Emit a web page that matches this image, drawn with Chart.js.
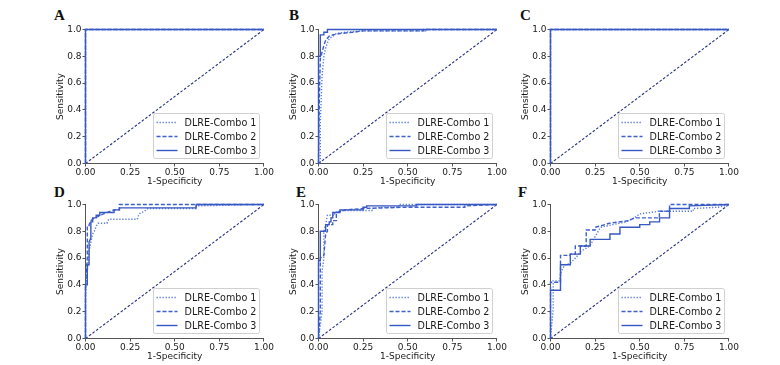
<!DOCTYPE html>
<html>
<head>
<meta charset="utf-8">
<script src="https://cdn.jsdelivr.net/npm/chart.js@4/dist/chart.umd.min.js"></script>
<style>
  body { margin: 0; background: #fff; width: 780px; height: 365px; position: relative; overflow: hidden; }
  canvas { position: absolute; }
  .tag { position: absolute; font: bold 15px "Liberation Serif", "Times New Roman", serif; color: #111; line-height: 1; }
</style>
</head>
<body>
<div class="tag" style="left:54px;top:8px">A</div>
<div class="tag" style="left:289px;top:8px">B</div>
<div class="tag" style="left:520px;top:8px">C</div>
<div class="tag" style="left:54px;top:185px">D</div>
<div class="tag" style="left:296px;top:185px">E</div>
<div class="tag" style="left:518px;top:185px">F</div>

<canvas id="rocA" width="220" height="168" style="left:55px;top:19px"></canvas>
<canvas id="rocB" width="220" height="168" style="left:288px;top:19px"></canvas>
<canvas id="rocC" width="220" height="168" style="left:520px;top:19px"></canvas>
<canvas id="rocD" width="220" height="168" style="left:55px;top:194px"></canvas>
<canvas id="rocE" width="220" height="168" style="left:288px;top:194px"></canvas>
<canvas id="rocF" width="220" height="168" style="left:520px;top:194px"></canvas>

<script>
// series labels and axis ticks
const seriesNames = ['DLRE-Combo 1', 'DLRE-Combo 2', 'DLRE-Combo 3'];
const xTicks = [0, 0.25, 0.5, 0.75, 1];
const yTicks = [0, 0.2, 0.4, 0.6, 0.8, 1];
const chanceFpr = [0, 1];
const chanceTpr = [0, 1];

// A - perfect curves
const A1_fpr = [0, 0, 1], A1_tpr = [0, 1, 1];
const A2_fpr = [0, 0, 1], A2_tpr = [0, 1, 1];
const A3_fpr = [0, 0, 1], A3_tpr = [0, 1, 1];

// B
const B1_fpr = [0, 0.01, 0.01, 0.02, 0.03, 0.04, 0.05, 0.06, 0.08, 0.1, 0.15, 0.25, 0.6, 0.6, 1];
const B1_tpr = [0, 0, 0.3, 0.65, 0.8, 0.86, 0.9, 0.93, 0.95, 0.97, 0.98, 0.99, 0.99, 1, 1];
const B2_fpr = [0, 0.005, 0.01, 0.02, 0.03, 0.04, 0.06, 0.08, 0.12, 0.2, 0.25, 0.59, 0.59, 1];
const B2_tpr = [0, 0.5, 0.78, 0.83, 0.88, 0.92, 0.95, 0.96, 0.97, 0.98, 0.99, 0.99, 1, 1];
const B3_fpr = [0, 0, 0.01, 0.01, 0.03, 0.03, 0.05, 0.05, 1];
const B3_tpr = [0, 0.8, 0.8, 0.96, 0.96, 0.98, 0.98, 1, 1];

// C - perfect curves
const C1_fpr = [0, 0, 1], C1_tpr = [0, 1, 1];
const C2_fpr = [0, 0, 1], C2_tpr = [0, 1, 1];
const C3_fpr = [0, 0, 1], C3_tpr = [0, 1, 1];

// D
const D1_fpr = [0, 0, 0.01, 0.02, 0.03, 0.04, 0.05, 0.06, 0.07, 0.12, 0.13, 0.29, 0.3, 0.33, 0.35, 0.62, 0.62, 1];
const D1_tpr = [0, 0.32, 0.5, 0.65, 0.72, 0.78, 0.8, 0.84, 0.86, 0.86, 0.89, 0.89, 0.93, 0.95, 0.97, 0.97, 0.99, 1];
const D2_fpr = [0, 0, 0.01, 0.01, 0.02, 0.02, 0.03, 0.05, 0.07, 0.1, 0.16, 0.19, 0.19, 1];
const D2_tpr = [0, 0.4, 0.6, 0.83, 0.83, 0.85, 0.88, 0.9, 0.91, 0.93, 0.96, 0.96, 1, 1];
const D3_fpr = [0, 0, 0.01, 0.01, 0.02, 0.02, 0.03, 0.03, 0.04, 0.04, 0.06, 0.06, 0.08, 0.08, 0.16, 0.16, 0.19, 0.19, 0.62, 0.62, 1];
const D3_tpr = [0, 0.4, 0.4, 0.55, 0.55, 0.72, 0.75, 0.87, 0.87, 0.9, 0.9, 0.92, 0.92, 0.94, 0.94, 0.96, 0.96, 0.975, 0.975, 1, 1];

// E
const E1_fpr = [0, 0.02, 0.02, 0.03, 0.03, 0.04, 0.05, 0.09, 0.09, 0.13, 0.3, 0.3, 0.35, 0.45, 0.45, 1];
const E1_tpr = [0, 0.2, 0.5, 0.6, 0.8, 0.85, 0.92, 0.92, 0.94, 0.955, 0.955, 0.97, 0.98, 0.98, 1, 1];
const E2_fpr = [0, 0.01, 0.01, 0.03, 0.04, 0.05, 0.05, 0.08, 0.08, 0.1, 0.1, 0.13, 0.15, 0.25, 0.5, 0.82, 0.82, 1];
const E2_tpr = [0, 0.2, 0.6, 0.62, 0.78, 0.8, 0.85, 0.85, 0.88, 0.88, 0.94, 0.95, 0.96, 0.97, 0.98, 0.98, 0.99, 1];
const E3_fpr = [0, 0, 0.01, 0.01, 0.04, 0.04, 0.06, 0.06, 0.07, 0.07, 0.08, 0.08, 0.12, 0.12, 0.25, 0.25, 0.27, 0.27, 0.55, 0.55, 1];
const E3_tpr = [0, 0.58, 0.58, 0.8, 0.8, 0.85, 0.85, 0.87, 0.87, 0.9, 0.9, 0.94, 0.94, 0.96, 0.96, 0.98, 0.98, 0.99, 0.99, 1, 1];

// F
const F1_fpr = [0, 0.015, 0.015, 0.05, 0.06, 0.08, 0.11, 0.14, 0.17, 0.22, 0.25, 0.28, 0.35, 0.42, 0.47, 0.5, 0.61, 0.8, 0.8, 0.94, 1];
const F1_tpr = [0, 0.22, 0.43, 0.43, 0.5, 0.55, 0.56, 0.6, 0.65, 0.69, 0.76, 0.83, 0.85, 0.87, 0.9, 0.93, 0.95, 0.95, 0.97, 0.98, 1];
const F2_fpr = [0, 0, 0.056, 0.056, 0.111, 0.111, 0.139, 0.139, 0.2, 0.2, 0.25, 0.25, 0.28, 0.33, 0.44, 0.47, 0.61, 0.61, 0.667, 0.667, 1];
const F2_tpr = [0, 0.42, 0.42, 0.62, 0.62, 0.63, 0.63, 0.69, 0.69, 0.81, 0.81, 0.83, 0.84, 0.86, 0.88, 0.9, 0.9, 0.95, 0.95, 1, 1];
const F3_fpr = [0, 0, 0.056, 0.056, 0.111, 0.111, 0.167, 0.167, 0.222, 0.222, 0.333, 0.333, 0.389, 0.389, 0.5, 0.5, 0.556, 0.556, 0.611, 0.611, 0.667, 0.667, 0.778, 0.778, 1];
const F3_tpr = [0, 0.36, 0.36, 0.55, 0.55, 0.63, 0.63, 0.69, 0.69, 0.74, 0.74, 0.78, 0.78, 0.83, 0.83, 0.85, 0.85, 0.87, 0.87, 0.9, 0.9, 0.97, 0.97, 0.99, 1];

const lineColors = ['#5a7ddc', '#3d60cc', '#3757c2'];
const lineDashes = [[1.3, 1.7], [4, 2], []];

Chart.defaults.font.family = '"DejaVu Sans", sans-serif';
Chart.defaults.font.size = 9;
Chart.defaults.color = '#1a1a1a';

const zip = (xs, ys) => xs.map((x, i) => ({ x: x, y: ys[i] }));

// legend box in the lower right of the plot area
const boxLegend = {
  id: 'boxLegend',
  afterDatasetsDraw(chart) {
    const { ctx, chartArea } = chart;
    const items = chart.data.datasets.filter(d => d.label);
    const w = 106, h = 45;
    const x0 = Math.round(chartArea.right - 5 - w) + 0.5;
    const y0 = Math.round(chartArea.bottom - 6 - h) + 0.5;
    ctx.save();
    ctx.fillStyle = 'rgba(255,255,255,0.8)';
    ctx.strokeStyle = '#d0d0d0';
    ctx.lineWidth = 1;
    ctx.beginPath();
    ctx.roundRect(x0, y0, w, h, 2);
    ctx.fill();
    ctx.stroke();
    items.forEach((d, i) => {
      const yy = y0 + 9 + i * 14;
      ctx.strokeStyle = d.borderColor;
      ctx.lineWidth = d.borderWidth;
      ctx.setLineDash(d.borderDash || []);
      ctx.beginPath();
      ctx.moveTo(x0 + 3, yy);
      ctx.lineTo(x0 + 24, yy);
      ctx.stroke();
      ctx.setLineDash([]);
      ctx.fillStyle = '#1a1a1a';
      ctx.font = '9.6px "DejaVu Sans", sans-serif';
      ctx.textBaseline = 'middle';
      ctx.fillText(d.label, x0 + 31, yy + 0.5);
    });
    ctx.restore();
  }
};

function rocChart(id, curves) {
  const sets = curves.map((c, i) => ({
    label: seriesNames[i],
    data: zip(c[0], c[1]),
    showLine: true,
    borderColor: lineColors[i],
    borderWidth: 1.4,
    borderDash: lineDashes[i],
    pointRadius: 0,
    clip: false,
    order: 3 - i
  }));
  sets.push({
    data: zip(chanceFpr, chanceTpr),
    showLine: true,
    borderColor: '#27327f',
    borderWidth: 1.1,
    borderDash: [2.6, 1.8],
    pointRadius: 0,
    clip: false,
    order: 5
  });
  new Chart(document.getElementById(id).getContext('2d'), {
    type: 'scatter',
    data: { datasets: sets },
    plugins: [boxLegend],
    options: {
      responsive: false,
      animation: false,
      devicePixelRatio: 1,
      layout: { padding: { left: 0, top: 10.5, right: 9.5, bottom: 0 } },
      plugins: { legend: { display: false }, tooltip: { enabled: false } },
      scales: {
        x: {
          type: 'linear', min: 0, max: 1,
          afterFit: s => { s.height = 23.5; },
          afterBuildTicks: s => { s.ticks = xTicks.map(v => ({ value: v })); },
          ticks: { callback: v => v.toFixed(2), padding: 1, maxRotation: 0 },
          grid: { drawOnChartArea: false, tickLength: 3, color: '#555' },
          border: { color: '#555', width: 1 },
          title: { display: true, text: '1-Specificity', padding: 0, font: { size: 9 } }
        },
        y: {
          type: 'linear', min: 0, max: 1,
          afterFit: s => { s.width = 30.5; },
          afterBuildTicks: s => { s.ticks = yTicks.map(v => ({ value: v })); },
          ticks: { callback: v => v.toFixed(1), padding: 1 },
          grid: { drawOnChartArea: false, tickLength: 3, color: '#555' },
          border: { color: '#555', width: 1 },
          title: { display: true, text: 'Sensitivity', padding: 0, font: { size: 9 } }
        }
      }
    }
  });
}

rocChart('rocA', [[A1_fpr, A1_tpr], [A2_fpr, A2_tpr], [A3_fpr, A3_tpr]]);
rocChart('rocB', [[B1_fpr, B1_tpr], [B2_fpr, B2_tpr], [B3_fpr, B3_tpr]]);
rocChart('rocC', [[C1_fpr, C1_tpr], [C2_fpr, C2_tpr], [C3_fpr, C3_tpr]]);
rocChart('rocD', [[D1_fpr, D1_tpr], [D2_fpr, D2_tpr], [D3_fpr, D3_tpr]]);
rocChart('rocE', [[E1_fpr, E1_tpr], [E2_fpr, E2_tpr], [E3_fpr, E3_tpr]]);
rocChart('rocF', [[F1_fpr, F1_tpr], [F2_fpr, F2_tpr], [F3_fpr, F3_tpr]]);
</script>
</body>
</html>
